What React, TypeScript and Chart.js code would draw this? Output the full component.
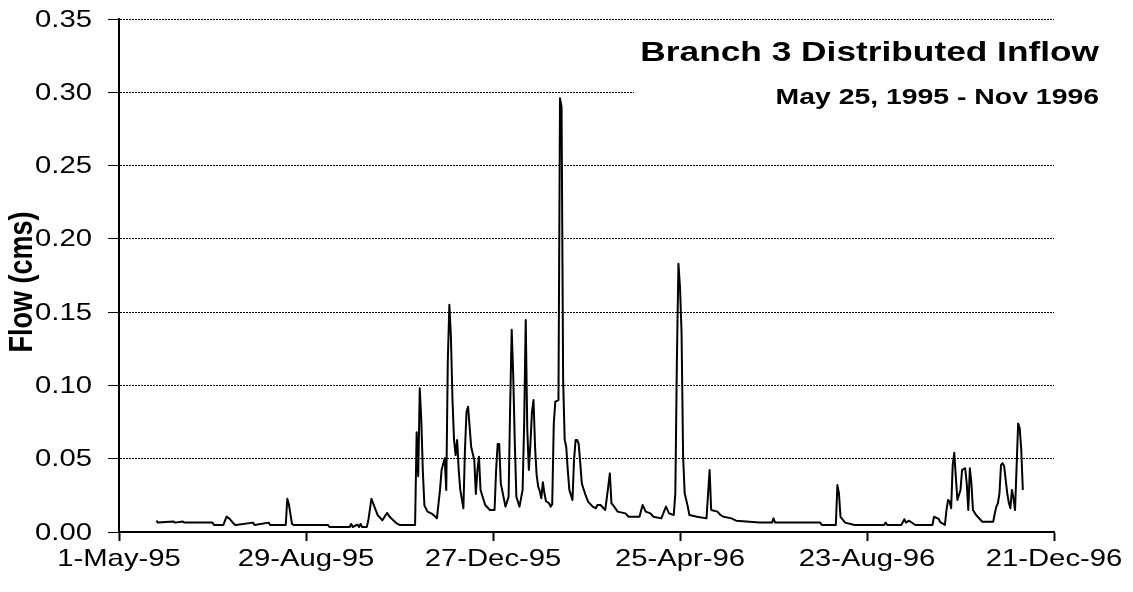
import React, { useEffect, useRef } from "react";
import { Chart, registerables } from "chart.js";

Chart.register(...registerables);

// ---- data ----
const tickDays = [0, 120, 240, 360, 480, 600];
const tickLabels = ["1-May-95", "29-Aug-95", "27-Dec-95", "25-Apr-96", "23-Aug-96", "21-Dec-96"];
const yTickValues = [0, 0.05, 0.1, 0.15, 0.2, 0.25, 0.3, 0.35];
const yTickLabels = ["0.00", "0.05", "0.10", "0.15", "0.20", "0.25", "0.30", "0.35"];

const titleText = "Branch 3 Distributed Inflow";
const subtitleText = "May 25, 1995 - Nov 1996";
const yAxisTitle = "Flow (cms)";

// day number counted from 1-May-95
const days = [
  24, 25, 35, 36, 41, 42, 60, 61, 67, 69, 71, 74, 75, 86, 87, 96, 97, 107, 108, 109,
  111, 112, 134, 135, 148, 149, 150, 153, 154, 155, 156, 159, 160, 162, 164, 166, 169, 172, 174, 178,
  180, 190, 191, 192, 193, 194, 195, 196, 198, 201, 203, 204, 206, 207, 209, 210, 211, 212, 213, 214,
  215, 216, 217, 218, 219, 221, 222, 223, 224, 226, 228, 229, 230, 231, 232, 235, 238, 241, 242, 243,
  244, 245, 248, 250, 251, 252, 253, 254, 255, 257, 259, 260, 261, 262, 263, 264, 265, 266, 267, 268,
  269, 270, 271, 272, 273, 274, 276, 277, 278, 279, 280, 282, 283, 284, 285, 286, 287, 288, 289, 291,
  292, 293, 294, 295, 296, 297, 299, 301, 304, 306, 307, 309, 312, 313, 315, 316, 317, 320, 325, 327,
  334, 336, 338, 341, 343, 348, 351, 353, 356, 357, 358, 359, 360, 361, 362, 363, 365, 366, 371, 377,
  379, 380, 384, 386, 388, 393, 396, 411, 419, 420, 421, 450, 451, 460, 461, 462, 463, 466, 472, 491,
  492, 493, 502, 504, 505, 507, 511, 522, 523, 526, 527, 530, 531, 532, 533, 534, 535, 536, 537, 538,
  540, 541, 543, 544, 545, 546, 547, 548, 550, 554, 561, 562, 563, 564, 565, 566, 567, 568, 569, 570,
  571, 572, 573, 574, 575, 576, 577, 578, 579, 580,
];

const flow = [
  0.0077, 0.0064, 0.0072, 0.0064, 0.0072, 0.0064, 0.0064, 0.0048, 0.0048, 0.0105, 0.009, 0.0052, 0.0048, 0.0064, 0.0048, 0.0064, 0.0048, 0.0048, 0.0227, 0.019,
  0.0055, 0.0048, 0.0048, 0.0034, 0.0034, 0.0055, 0.0034, 0.005, 0.0034, 0.0055, 0.0034, 0.0034, 0.008, 0.0227, 0.017, 0.0115, 0.008, 0.013, 0.01, 0.006,
  0.0048, 0.0048, 0.068, 0.038, 0.098, 0.076, 0.041, 0.018, 0.0139, 0.0123, 0.0104, 0.0093, 0.0287, 0.0423, 0.0503, 0.0287, 0.117, 0.155, 0.133, 0.09,
  0.0628, 0.0525, 0.0628, 0.0423, 0.0287, 0.0162, 0.056, 0.082, 0.0855, 0.058, 0.049, 0.026, 0.0423, 0.0514, 0.0287, 0.0184, 0.015, 0.015, 0.0423, 0.06,
  0.06, 0.0332, 0.0173, 0.024, 0.0855, 0.138, 0.106, 0.0605, 0.024, 0.0173, 0.0287, 0.074, 0.1446, 0.07, 0.0423, 0.06, 0.082, 0.09, 0.058, 0.039,
  0.031, 0.028, 0.023, 0.034, 0.0264, 0.021, 0.0196, 0.0173, 0.019, 0.074, 0.089, 0.09, 0.296, 0.29, 0.104, 0.063, 0.058, 0.042, 0.0287, 0.0218,
  0.049, 0.0628, 0.0628, 0.06, 0.047, 0.033, 0.0264, 0.0207, 0.0173, 0.0162, 0.0184, 0.0184, 0.015, 0.023, 0.04, 0.0196, 0.0184, 0.0139, 0.0127, 0.0104,
  0.0104, 0.0184, 0.0139, 0.0127, 0.0104, 0.0093, 0.0173, 0.0127, 0.0116, 0.0264, 0.117, 0.183, 0.167, 0.136, 0.0514, 0.0264, 0.0173, 0.0116, 0.0104, 0.0093,
  0.0423, 0.015, 0.0139, 0.0116, 0.0104, 0.0093, 0.0077, 0.0064, 0.0064, 0.0093, 0.0064, 0.0064, 0.0048, 0.0048, 0.032, 0.0264, 0.0104, 0.0064, 0.0048, 0.0048,
  0.0064, 0.0048, 0.0048, 0.0087, 0.0064, 0.0077, 0.0048, 0.0048, 0.0104, 0.009, 0.0067, 0.0048, 0.015, 0.0218, 0.021, 0.0162, 0.0457, 0.054, 0.0377, 0.0218,
  0.0287, 0.0423, 0.0435, 0.0332, 0.015, 0.0435, 0.0332, 0.015, 0.0116, 0.007, 0.007, 0.0127, 0.0173, 0.0196, 0.0264, 0.0457, 0.0469, 0.045, 0.0355, 0.0264,
  0.02, 0.0162, 0.0287, 0.023, 0.015, 0.0446, 0.074, 0.0708, 0.056, 0.0287,
];

const FONT = '"Liberation Sans", Arial, sans-serif';

function drawStretched(
  ctx: CanvasRenderingContext2D,
  text: string,
  x: number,
  y: number,
  font: string,
  align: CanvasTextAlign,
  baseline: CanvasTextBaseline,
  sx: number
) {
  ctx.save();
  ctx.translate(x, y);
  ctx.scale(sx, 1);
  ctx.font = font;
  ctx.textAlign = align;
  ctx.textBaseline = baseline;
  ctx.fillStyle = "#000";
  ctx.fillText(text, 0, 0);
  ctx.restore();
}

const textPlugin = {
  id: "excelText",
  afterDatasetsDraw(chart: any) {
    const ctx: CanvasRenderingContext2D = chart.ctx;
    const area = chart.chartArea;
    // white title box covering the grid
    ctx.save();
    ctx.fillStyle = "#fff";
    ctx.fillRect(634, area.top + 2, chart.width - 634, 104);
    ctx.restore();
    drawStretched(ctx, titleText, 1099, 61, `bold 28px ${FONT}`, "right", "alphabetic", 1.26);
    drawStretched(ctx, subtitleText, 1099, 104, `bold 22px ${FONT}`, "right", "alphabetic", 1.29);
  },
  afterDraw(chart: any) {
    const ctx: CanvasRenderingContext2D = chart.ctx;
    const xs = chart.scales.x;
    const ys = chart.scales.y;
    yTickValues.forEach((v, i) => {
      const py = ys.getPixelForValue(v);
      drawStretched(ctx, yTickLabels[i], ys.right - 27, py + 1, `24px ${FONT}`, "right", "middle", 1.22);
    });
    tickDays.forEach((d, i) => {
      const px = xs.getPixelForValue(d);
      drawStretched(ctx, tickLabels[i], px, xs.top + 27, `24px ${FONT}`, "center", "middle", 1.22);
    });
    // rotated y-axis title
    ctx.save();
    ctx.translate(23, 282);
    ctx.rotate(-Math.PI / 2);
    ctx.scale(1, 1.25);
    ctx.font = `bold 27px ${FONT}`;
    ctx.textAlign = "center";
    ctx.textBaseline = "middle";
    ctx.fillStyle = "#000";
    ctx.fillText(yAxisTitle, 0, 0);
    ctx.restore();
  },
};

export default function App() {
  const canvasRef = useRef<HTMLCanvasElement | null>(null);

  useEffect(() => {
    if (!canvasRef.current) return;
    const chart = new Chart(canvasRef.current, {
      type: "line",
      data: {
        datasets: [
          {
            data: days.map((d, i) => ({ x: d, y: flow[i] })),
            borderColor: "#000",
            borderWidth: 2,
            pointRadius: 0,
            tension: 0,
            fill: false,
            borderJoinStyle: "round",
          },
        ],
      },
      options: {
        animation: false,
        responsive: false,
        layout: { padding: { top: 19, right: 79, left: 0, bottom: 0 } },
        plugins: {
          legend: { display: false },
          tooltip: { enabled: false },
          title: { display: false },
        },
        scales: {
          x: {
            type: "linear",
            min: 0,
            max: 600,
            afterBuildTicks: (scale: any) => {
              scale.ticks = tickDays.map((v) => ({ value: v }));
            },
            afterFit: (scale: any) => {
              scale.height = 60;
            },
            ticks: { display: false },
            grid: {
              drawOnChartArea: false,
              drawTicks: true,
              tickLength: 9,
              tickWidth: 2,
              tickColor: "#000",
              color: "#000",
            },
            border: { display: true, color: "#000", width: 2 },
          },
          y: {
            type: "linear",
            min: 0,
            max: 0.35,
            afterBuildTicks: (scale: any) => {
              scale.ticks = yTickValues.map((v) => ({ value: v }));
            },
            afterFit: (scale: any) => {
              scale.width = 119;
            },
            ticks: { display: false },
            grid: {
              color: "#000",
              lineWidth: 1,
              drawTicks: true,
              tickLength: 11,
              tickWidth: 1,
              tickColor: "#000",
              tickBorderDash: [],
            },
            border: { display: true, color: "#000", width: 2, dash: [2, 1] },
          },
        },
      },
      plugins: [textPlugin],
    });
    return () => chart.destroy();
  }, []);

  return (
    <canvas
      ref={canvasRef}
      width={1133}
      height={592}
      style={{ position: "absolute", left: 0, top: 0, display: "block" }}
    />
  );
}
